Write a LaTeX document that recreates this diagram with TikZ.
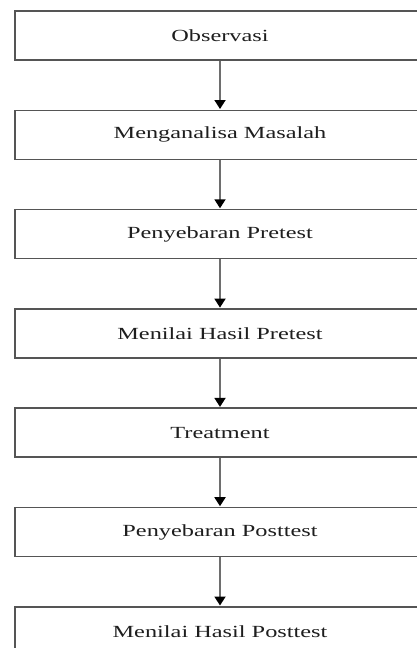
\documentclass[tikz,border=0pt]{standalone}
\usepackage{fontspec}
\usepackage{xcolor}
\usepackage{tikz}
\usetikzlibrary{arrows.meta}
\newfontfamily\flowfont[FakeStretch=1.43]{Liberation Serif}
\definecolor{clrLine}{RGB}{85,85,85}
\definecolor{clrShaft}{RGB}{110,110,110}
\definecolor{clrText}{RGB}{30,30,30}
\tikzset{
  stepbox/.style={rectangle,draw=clrLine,line width=1.6pt,fill=white,
    minimum width=410pt,minimum height=49pt,inner sep=0pt,
    font=\flowfont\fontsize{17}{20}\selectfont,text=clrText},
  arrow/.style={-{Triangle[length=9pt,width=11pt,color=black]},
    line width=1.8pt,color=clrShaft,shorten >=0.5pt}
}
\begin{document}
\begin{tikzpicture}[x=1pt,y=1pt]
  \useasboundingbox (0,0) rectangle (417,-648);
  \node[stepbox] (obs) at (220,-35.5) {Observasi};
  \node[stepbox] (anl) at (220,-134.8) {Menganalisa Masalah};
  \node[stepbox] (pre) at (220,-234.1) {Penyebaran Pretest};
  \node[stepbox] (npre) at (220,-333.4) {Menilai Hasil Pretest};
  \node[stepbox] (trt) at (220,-432.7) {Treatment};
  \node[stepbox] (post) at (220,-532.0) {Penyebaran Posttest};
  \node[stepbox] (npost) at (220,-631.3) {Menilai Hasil Posttest};
  \draw[arrow] (obs) -- (anl);
  \draw[arrow] (anl) -- (pre);
  \draw[arrow] (pre) -- (npre);
  \draw[arrow] (npre) -- (trt);
  \draw[arrow] (trt) -- (post);
  \draw[arrow] (post) -- (npost);
\end{tikzpicture}
\end{document}
